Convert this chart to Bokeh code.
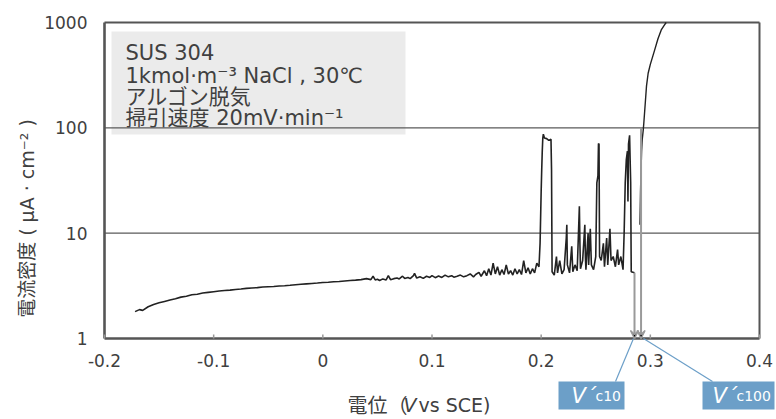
from bokeh.plotting import figure
from bokeh.models import (FixedTicker, BoxAnnotation, Arrow, VeeHead, Title, Range1d)
from bokeh.core.properties import value
from bokeh.embed import file_html
from bokeh.resources import INLINE

# ---------------- data ----------------
x_ticks = [-0.2, -0.1, 0.0, 0.1, 0.2, 0.3, 0.4]
x_tick_labels = ["-0.2", "-0.1", "0", "0.1", "0.2", "0.3", "0.4"]
y_ticks = [1, 10, 100, 1000]
y_tick_labels = ["1", "10", "100", "1000"]
grid_levels = [10, 100]

# passive region + metastable pitting (V vs SCE, uA/cm2)
potential_a = [
    -0.172, -0.168, -0.165, -0.160, -0.155, -0.150, -0.145, -0.140, -0.135, -0.130,
    -0.125, -0.120, -0.115, -0.110, -0.105, -0.100, -0.095, -0.090, -0.085, -0.080,
    -0.075, -0.070, -0.065, -0.060, -0.055, -0.050, -0.045, -0.040, -0.035, -0.030,
    -0.025, -0.020, -0.015, -0.010, -0.005, 0.000, 0.005, 0.010, 0.015, 0.020,
    0.025, 0.030, 0.035, 0.040, 0.044, 0.046, 0.048, 0.050, 0.052, 0.055,
    0.058, 0.060, 0.062, 0.065, 0.068, 0.070, 0.073, 0.075, 0.078, 0.080,
    0.083, 0.084, 0.086, 0.089, 0.092, 0.095, 0.098, 0.100, 0.103, 0.106,
    0.109, 0.112, 0.115, 0.118, 0.120, 0.123, 0.126, 0.129, 0.132, 0.135,
    0.138, 0.140, 0.143, 0.145, 0.148, 0.150, 0.152, 0.154, 0.156, 0.158,
    0.160, 0.162, 0.164, 0.166, 0.168, 0.170, 0.172, 0.174, 0.176, 0.178,
    0.180, 0.182, 0.184, 0.186, 0.188, 0.190, 0.192, 0.194, 0.196, 0.198,
    0.199, 0.200, 0.2005, 0.201, 0.2015, 0.202, 0.203, 0.205, 0.207, 0.209,
    0.2095, 0.210, 0.212, 0.214, 0.215, 0.217, 0.219, 0.221, 0.223, 0.2235,
    0.224, 0.226, 0.228, 0.229, 0.231, 0.233, 0.235, 0.2355, 0.236, 0.238,
    0.240, 0.2405, 0.241, 0.243, 0.2435, 0.245, 0.246, 0.248, 0.250, 0.251,
    0.252, 0.2525, 0.253, 0.2535, 0.255, 0.257, 0.258, 0.260, 0.261, 0.263,
    0.264, 0.266, 0.268, 0.270, 0.271, 0.273, 0.275, 0.276, 0.277, 0.278,
    0.279, 0.2795, 0.280, 0.281, 0.2815, 0.282, 0.2825, 0.2855,
]
current_a = [
    1.80, 1.88, 1.85, 2.00, 2.10, 2.18, 2.25, 2.32, 2.38, 2.47,
    2.52, 2.60, 2.63, 2.70, 2.74, 2.78, 2.82, 2.86, 2.88, 2.92,
    2.95, 2.99, 3.02, 3.04, 3.08, 3.10, 3.12, 3.15, 3.17, 3.20,
    3.24, 3.27, 3.30, 3.33, 3.36, 3.40, 3.42, 3.46, 3.48, 3.52,
    3.55, 3.58, 3.62, 3.70, 3.62, 3.90, 3.60, 3.65, 3.55, 3.68,
    3.60, 3.95, 3.62, 3.70, 3.75, 3.68, 3.90, 3.72, 3.80, 3.70,
    3.95, 4.15, 3.75, 3.85, 3.72, 3.90, 3.80, 3.95, 3.78, 3.92,
    3.80, 4.00, 3.85, 3.95, 3.82, 3.90, 4.00, 3.85, 3.95, 4.10,
    3.85, 4.05, 4.25, 3.90, 4.40, 3.95, 4.60, 4.00, 5.20, 4.10,
    4.80, 4.00, 4.50, 4.05, 5.00, 4.10, 4.40, 4.00, 4.60, 4.10,
    4.50, 4.05, 5.50, 4.20, 4.70, 4.10, 4.60, 4.20, 5.20, 4.80,
    8.0, 25.0, 40.0, 60.0, 80.0, 87.0, 80.0, 79.0, 76.0, 78.0,
    40.0, 4.3, 4.0, 6.0, 4.2, 5.5, 4.1, 4.5, 9.0, 12.0,
    5.0, 4.2, 7.5, 4.3, 5.0, 4.4, 18.0, 8.0, 4.6, 5.5,
    12.0, 6.0, 4.5, 10.0, 5.0, 11.0, 5.0, 4.5, 6.0, 30.0,
    35.0, 71.0, 70.0, 6.0, 5.5, 8.0, 4.8, 9.0, 5.0, 11.0,
    5.5, 6.0, 4.8, 7.0, 5.0, 6.0, 4.5, 10.0, 30.0, 50.0,
    60.0, 20.0, 70.0, 85.0, 50.0, 30.0, 4.3, 4.2,
]
# stable pitting (final rise)
potential_b = [0.2905, 0.291, 0.2915, 0.292, 0.2925, 0.2935, 0.294, 0.2955,
               0.2965, 0.298, 0.300, 0.304, 0.307, 0.310, 0.313, 0.3145]
current_b = [12.0, 25.0, 40.0, 60.0, 76.0, 95.0, 110.0, 180.0,
             250.0, 330.0, 400.0, 550.0, 700.0, 850.0, 950.0, 1000.0]

# critical pitting potential markers
vc_potential = [0.2855, 0.2915]
vc_top = [4.2, 100.0]
vc_subscripts = ["c10", "c100"]

info_lines = ["SUS 304", "1kmol·m⁻³ NaCl , 30℃", "アルゴン脱気", "掃引速度 20mV·min⁻¹"]

# ---------------- layout constants ----------------
TXT = "#404040"
AX = "#555555"
BLUE = "#6c9fc8"
LATIN = "DejaVu Sans"
MIXED = "DejaVu Sans, Noto Sans CJK JP"
CJK = "Noto Sans CJK JP"

W, H = 776, 419
B_LEFT, B_RIGHT, B_TOP, B_BOTTOM = 84, 1, 18, 1
PX_X = 655 / 0.6          # px per volt
PX_DEC = 316 / 3          # px per decade
X0, X1 = -0.2, 0.4
x_start = X0 - 20 / PX_X
x_end = x_start + (W - B_LEFT - B_RIGHT) / PX_X
y_end = 10 ** (3 + 4 / PX_DEC)
y_start = 10 ** (-((H - B_TOP - B_BOTTOM) - 4 - 316) / PX_DEC)


def ypx(dy):
    """value located dy pixels below the y=1 axis line"""
    return 10 ** (-dy / PX_DEC)


def xpx(dx):
    """value located dx pixels right of x=-0.2"""
    return X0 + dx / PX_X


p = figure(width=W, height=H, x_range=Range1d(x_start, x_end),
           y_range=Range1d(y_start, y_end), y_axis_type="log",
           output_backend="svg", toolbar_location=None,
           min_border_left=B_LEFT, min_border_right=B_RIGHT,
           min_border_top=B_TOP, min_border_bottom=B_BOTTOM)
p.title.visible = False
p.background_fill_color = "white"
p.border_fill_color = "white"
p.outline_line_color = None
p.xgrid.visible = False
p.ygrid.visible = False
p.xaxis.visible = False

ya = p.yaxis[0]
ya.ticker = FixedTicker(ticks=y_ticks)
ya.major_label_overrides = {t: l for t, l in zip(y_ticks, y_tick_labels)}
ya.axis_line_color = None
ya.major_tick_line_color = None
ya.minor_tick_line_color = None
ya.major_label_standoff = -9
ya.major_label_text_font = LATIN
ya.major_label_text_font_size = "17px"
ya.major_label_text_color = TXT

p.add_layout(Title(text="電流密度 ( μA · cm⁻² )", align="center", offset=58,
                   text_font=MIXED, text_font_size="19px", text_font_style="normal",
                   text_color=TXT, standoff=8), "left")

# info box
p.add_layout(BoxAnnotation(left=xpx(7), right=xpx(301), bottom=ypx(-204), top=ypx(-307),
                           fill_color="#ebebeb", fill_alpha=1, line_color=None,
                           level="underlay"))
info_base = [ypx(-286), ypx(-263), ypx(-242), ypx(-221)]
p.text(x=[xpx(21)] * len(info_lines), y=info_base, text=info_lines,
       text_font=value(MIXED), text_font_size="21px", text_color=TXT,
       text_baseline="alphabetic", text_align="left")

# grid lines and frame
p.segment(x0=[X0] * len(grid_levels), y0=grid_levels, x1=[X1] * len(grid_levels),
          y1=grid_levels, line_color="#5a5a5a", line_width=1.3)
p.segment(x0=[X0, X1], y0=[1000, 1000], x1=[X1, X1], y1=[1000, 1],
          line_color=AX, line_width=2)
p.segment(x0=[X0, X0], y0=[1, 1], x1=[X0, X1], y1=[1000, 1],
          line_color=AX, line_width=2.6)

# x-axis ticks and labels
p.segment(x0=x_ticks, y0=[1] * len(x_ticks), x1=x_ticks, y1=[ypx(-4)] * len(x_ticks),
          line_color="#999999", line_width=1.5)
p.text(x=x_ticks, y=[ypx(22)] * len(x_ticks), text=x_tick_labels,
       text_font=value(LATIN), text_font_size="17px", text_color=TXT,
       text_align="center", text_baseline="alphabetic")
# x-axis label
p.text(x=[xpx(243)], y=[ypx(66)], text=["電位（"], text_font=value(CJK),
       text_font_size="20px", text_color=TXT, text_baseline="alphabetic")
p.text(x=[xpx(299)], y=[ypx(66)], text=["V"], text_font=value(LATIN),
       text_font_style="italic", text_font_size="19px", text_color=TXT,
       text_baseline="alphabetic")
p.text(x=[xpx(314)], y=[ypx(66)], text=["vs SCE)"], text_font=value(LATIN),
       text_font_size="19px", text_color=TXT, text_baseline="alphabetic")

# curve
p.line(potential_a, current_a, line_color="#222222", line_width=1.6)
p.line(potential_b, current_b, line_color="#222222", line_width=1.4)

# vertical indicator lines with arrow heads
p.segment(x0=vc_potential, y0=vc_top, x1=vc_potential, y1=[1.0] * len(vc_potential),
          line_color="#9a9a9a", line_width=2)
for xv in vc_potential:
    p.add_layout(Arrow(x_start=xv, y_start=ypx(-8), x_end=xv, y_end=1.0,
                       line_color="#9a9a9a", line_width=1.5,
                       end=VeeHead(size=8, line_color="#9a9a9a", line_width=1.5)))

# callout boxes
leader_start = [xpx(529), xpx(539)]
leader_end = [xpx(511), xpx(608)]
p.segment(x0=leader_start, y0=[1.0, 1.0], x1=leader_end, y1=[ypx(43), ypx(43)],
          line_color=BLUE, line_width=1.2)
p.quad(left=[xpx(454), xpx(598)], right=[xpx(520), xpx(670)],
       bottom=[ypx(71)] * 2, top=[ypx(43)] * 2, fill_color=BLUE, line_color=None)
p.text(x=[xpx(467), xpx(608)], y=[ypx(57)] * 2, text=["V´", "V´"],
       text_font=value(LATIN), text_font_style="italic", text_font_size="21px",
       text_color="white", text_baseline="alphabetic")
p.text(x=[xpx(491), xpx(632)], y=[ypx(57)] * 2, text=vc_subscripts,
       text_font=value(LATIN), text_font_size="14px",
       text_color="white", text_baseline="alphabetic")

open("out.html", "w").write(file_html(p, INLINE))
